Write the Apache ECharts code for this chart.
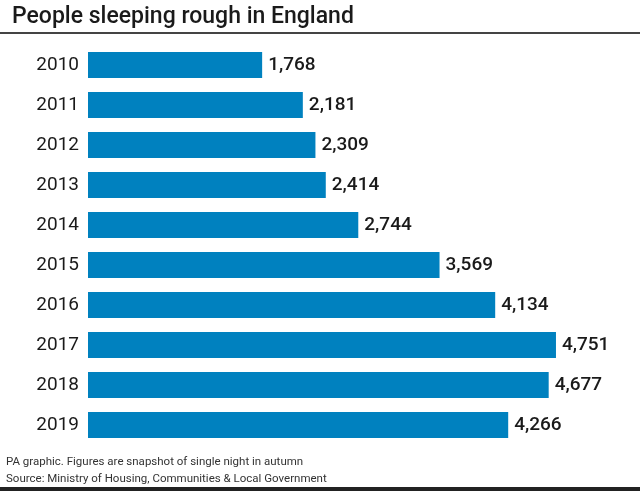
<!DOCTYPE html>
<html><head><meta charset="utf-8">
<script src="https://cdn.jsdelivr.net/npm/echarts@6/dist/echarts.min.js"></script>
<style>html,body{margin:0;padding:0;background:#fff}#c{width:640px;height:491px}</style>
</head><body><div id="c"></div>
<script>
const categories = ['2010','2011','2012','2013','2014','2015','2016','2017','2018','2019'];
const values = [1768, 2181, 2309, 2414, 2744, 3569, 4134, 4751, 4677, 4266];
const titleText = 'People sleeping rough in England';
const footnote1 = 'PA graphic. Figures are snapshot of single night in autumn';
const footnote2 = 'Source: Ministry of Housing, Communities & Local Government';

const chart = echarts.init(document.getElementById('c'), null, {renderer:'canvas'});
chart.setOption({
  animation: false,
  backgroundColor: '#fff',
  graphic: [
    {type:'text', left: 12, top: 6, style:{text: titleText, font: '500 23px Roboto', fill:'#1a1a1a'}},
    {type:'rect', shape:{x:0, y:32, width:640, height:2}, style:{fill:'#444'}},
    {type:'text', left: 6, top: 456, style:{text: footnote1, font: '11.5px Roboto', fill:'#333'}},
    {type:'text', left: 6, top: 473, style:{text: footnote2, font: '11.5px Roboto', fill:'#333'}},
    {type:'rect', shape:{x:0, y:487, width:640, height:4}, style:{fill:'#222'}}
  ],
  grid: {left: 88, top: 45, width: 492.5, height: 400, containLabel: false},
  xAxis: {type:'value', min:0, max:5000, show:false},
  yAxis: {
    type:'category', data: categories, inverse: true,
    axisLine:{show:false}, axisTick:{show:false}, splitLine:{show:false},
    axisLabel:{color:'#1a1a1a', fontSize:19, fontFamily:'Roboto', margin:9}
  },
  series: [{
    type:'bar', data: values, barWidth: 26,
    itemStyle:{color:'#0081bf'},
    label:{show:true, position:'right', distance:6, color:'#1a1a1a', fontSize:19, fontWeight:500, fontFamily:'Roboto',
      formatter: p => p.value.toLocaleString('en-GB')}
  }]
});
</script></body></html>
